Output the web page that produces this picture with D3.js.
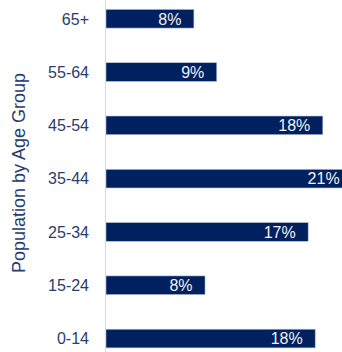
<!DOCTYPE html>
<html><head><meta charset="utf-8">
<script src="https://cdn.jsdelivr.net/npm/d3@7"></script>
<style>html,body{margin:0;padding:0;background:#fff;overflow:hidden}svg{display:block}</style>
</head><body>
<script>
const categories = ["65+","55-64","45-54","35-44","25-34","15-24","0-14"];
const values = [7.5, 9.45, 18.5, 21, 17.25, 8.45, 17.85];
const valueLabels = ["8%","9%","18%","21%","17%","8%","18%"];
const axisTitle = "Population by Age Group";

const W = 342, H = 352;
const svg = d3.select("body").append("svg").attr("width", W).attr("height", H);
const x0 = 106;
const x = d3.scaleLinear().domain([0, 1]).range([x0, x0 + 11.72]);
const y = d3.scaleBand().domain(categories).range([-7.9, 365.2]).paddingInner(0.65).paddingOuter(0.325);

const font = "Liberation Sans, Arial, sans-serif";

svg.selectAll("rect.bar").data(values).join("rect")
  .attr("class","bar")
  .attr("x", x(0))
  .attr("y", (d,i) => y(categories[i]))
  .attr("width", d => x(d) - x(0))
  .attr("height", y.bandwidth())
  .attr("fill", "#002060")
  .attr("stroke", "#b4bdd3")
  .attr("stroke-width", 0.6);

svg.append("line").attr("x1", x0 - 0.5).attr("x2", x0 - 0.5).attr("y1", 0).attr("y2", H)
  .attr("stroke", "#d9d9d9").attr("stroke-width", 1);

svg.selectAll("text.cat").data(categories).join("text")
  .attr("class","cat")
  .attr("x", 89)
  .attr("y", d => y(d) + y.bandwidth()/2)
  .attr("dy", "0.36em")
  .attr("text-anchor","end")
  .attr("font-family", font)
  .attr("font-size", 16)
  .attr("fill", "#2b3c6e")
  .text(d => d);

svg.selectAll("text.val").data(values).join("text")
  .attr("class","val")
  .attr("x", d => x(d) - 12.5)
  .attr("y", (d,i) => y(categories[i]) + y.bandwidth()/2)
  .attr("dy", "0.36em")
  .attr("text-anchor","end")
  .attr("font-family", font)
  .attr("font-size", 16)
  .attr("fill", "#f2f2f2")
  .text((d,i) => valueLabels[i]);

svg.append("text")
  .attr("transform", "translate(25,173) rotate(-90)")
  .attr("text-anchor","middle")
  .attr("font-family", font)
  .attr("font-size", 18)
  .attr("fill", "#2b3c6e")
  .text(axisTitle);
</script>
</body></html>
